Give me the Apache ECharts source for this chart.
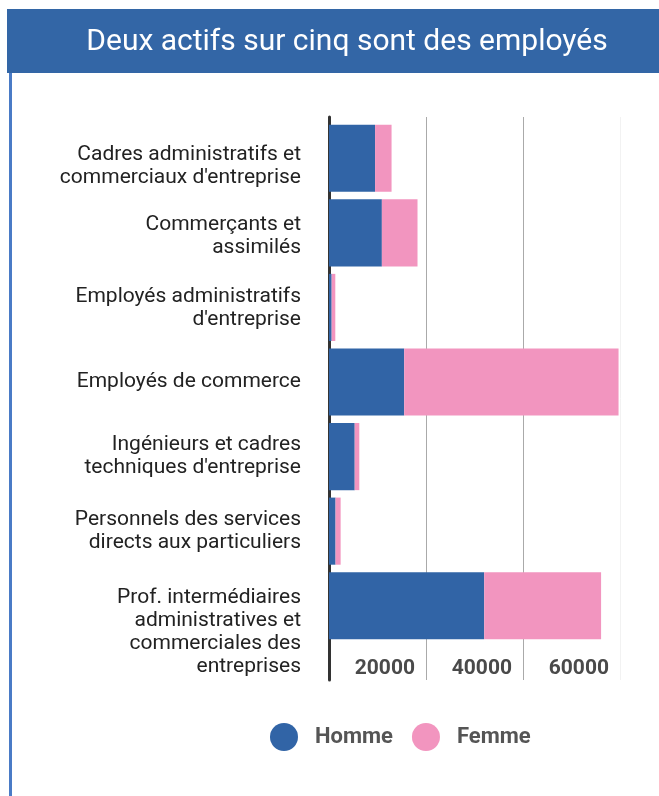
<!DOCTYPE html>
<html>
<head>
<meta charset="utf-8">
<script src="https://cdn.jsdelivr.net/npm/echarts@6/dist/echarts.min.js"></script>
<style>
html,body{margin:0;padding:0;background:#fff;}
#c{width:659px;height:796px;}
</style>
</head>
<body>
<div id="c"></div>
<script>
const titleText = "Deux actifs sur cinq sont des employés";
const categories = [
  "Cadres administratifs et\ncommerciaux d'entreprise",
  "Commerçants et\nassimilés",
  "Employés administratifs\nd'entreprise",
  "Employés de commerce",
  "Ingénieurs et cadres\ntechniques d'entreprise",
  "Personnels des services\ndirects aux particuliers",
  "Prof. intermédiaires\nadministratives et\ncommerciales des\nentreprises"
];
const homme = [9500, 10900, 550, 15500, 5300, 1350, 32000];
const femme = [3400, 7350, 750, 44200, 950, 1050, 24100];
const seriesNames = ["Homme", "Femme"];
const xTicks = [0, 20000, 40000, 60000];

const BLUE = '#3164a6';
const PINK = '#f295bf';
// extra spacer line height (px) above some multi-line labels to push them down
const spacer = [16, 7, 2, 0, 0, 0, 53];

const rich = {};
spacer.forEach((h, i) => { if (h > 0) rich['g' + i] = {height: h, lineHeight: h, fontSize: 1}; });

const chart = echarts.init(document.getElementById('c'), null, {renderer: 'canvas'});
const option = {
  animation: false,
  backgroundColor: '#ffffff',
  graphic: [
    {type: 'rect', shape: {x: 7, y: 9, width: 652, height: 64}, style: {fill: '#3366a6'}, z: -1},
    {type: 'rect', shape: {x: 9, y: 73, width: 3, height: 723}, style: {fill: '#4a7bc6'}, z: -1}
  ],
  title: {
    text: titleText,
    left: 342,
    top: 22,
    textAlign: 'center',
    textStyle: {color: '#ffffff', fontFamily: 'Roboto', fontWeight: 'normal', fontSize: 30}
  },
  legend: {
    data: seriesNames,
    left: 270,
    top: 723,
    padding: 0,
    icon: 'circle',
    itemWidth: 28,
    itemHeight: 28,
    itemGap: 19,
    textStyle: {fontFamily: 'Roboto', fontWeight: 'bold', fontSize: 22, color: '#555555', padding: [0, 0, 0, 12]}
  },
  grid: [
    {left: 329, right: 39, top: 117, bottom: 116},
    {left: 329, right: 39, top: 121, bottom: 153}
  ],
  xAxis: [
    {
      gridIndex: 0, type: 'value', min: xTicks[0], max: xTicks[xTicks.length - 1], interval: xTicks[1] - xTicks[0],
      axisLine: {show: false}, axisTick: {show: false},
      splitLine: {show: true, lineStyle: {color: ['#aaaaaa', '#aaaaaa', '#aaaaaa', '#f2f2f2'], width: 1}},
      axisLabel: {
        inside: true, margin: 1, align: 'right', padding: [0, 11, 0, 0],
        fontFamily: 'Roboto', fontWeight: 'bold', fontSize: 21, color: '#4a4a4a',
        formatter: v => (v === 0 ? '' : String(v)),
        showMaxLabel: true
      }
    },
    {
      gridIndex: 1, type: 'value', min: xTicks[0], max: xTicks[xTicks.length - 1], show: false
    }
  ],
  yAxis: [
    {
      gridIndex: 0, type: 'value', min: 0, max: 1,
      axisLine: {show: true, lineStyle: {color: '#333333', width: 3}},
      axisTick: {show: false}, axisLabel: {show: false}, splitLine: {show: false}
    },
    {
      gridIndex: 1, type: 'category', inverse: true,
      data: categories,
      axisLine: {show: false}, axisTick: {show: false},
      axisLabel: {
        interval: 0, hideOverlap: false,
        margin: 28, fontFamily: 'Roboto', fontSize: 21, color: '#222222', lineHeight: 23, align: 'right',
        formatter: (v, i) => (spacer[i] > 0 ? '{g' + i + '| }\n' : '') + v,
        rich: rich
      }
    }
  ],
  series: [
    {name: seriesNames[0], type: 'bar', stack: 't', xAxisIndex: 1, yAxisIndex: 1, data: homme,
     barCategoryGap: '10%', itemStyle: {color: BLUE}},
    {name: seriesNames[1], type: 'bar', stack: 't', xAxisIndex: 1, yAxisIndex: 1, data: femme,
     barCategoryGap: '10%', itemStyle: {color: PINK}}
  ]
};
chart.setOption(option);
</script>
</body>
</html>
